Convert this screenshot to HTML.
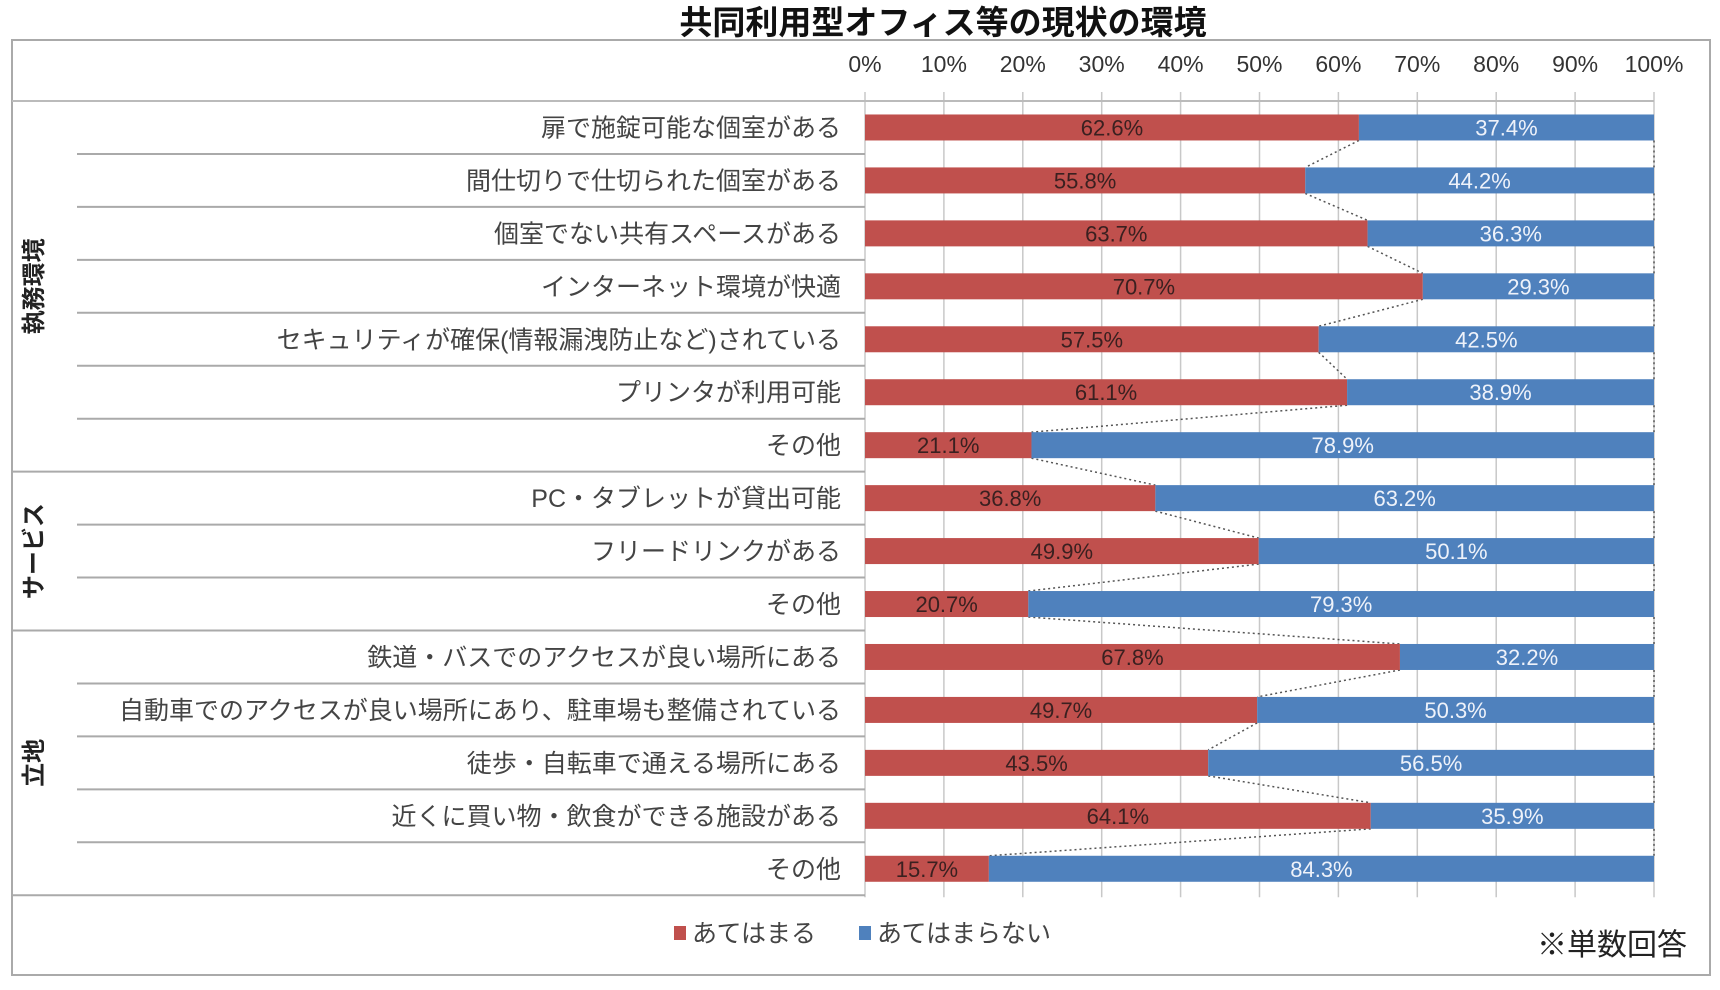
<!DOCTYPE html>
<html><head><meta charset="utf-8"><style>
html,body{margin:0;padding:0;background:#fff;}
svg{display:block;font-family:"Liberation Sans","Noto Sans CJK JP",sans-serif;}
</style></head><body>
<svg id="chart" width="1720" height="990" viewBox="0 0 1720 990">
<text x="943" y="34" text-anchor="middle" font-size="33" font-weight="bold" fill="#111">共同利用型オフィス等の現状の環境</text>
<rect x="12" y="40" width="1698" height="935" fill="none" stroke="#aaa" stroke-width="2"/>
<g id="grid"></g>
<g id="rows"></g>
<g id="bars"></g>
<g id="legend">
<rect x="674" y="926" width="12" height="14" fill="#C0504D"/>
<text x="692" y="942" font-size="25" fill="#444">あてはまる</text>
<rect x="859" y="926" width="12" height="14" fill="#4F81BD"/>
<text x="877" y="942" font-size="25" fill="#444">あてはまらない</text>
</g>
<text x="1687" y="955" text-anchor="end" font-size="30" fill="#222">※単数回答</text>
</svg>
<script>
const categories=["扉で施錠可能な個室がある","間仕切りで仕切られた個室がある","個室でない共有スペースがある","インターネット環境が快適","セキュリティが確保(情報漏洩防止など)されている","プリンタが利用可能","その他","PC・タブレットが貸出可能","フリードリンクがある","その他","鉄道・バスでのアクセスが良い場所にある","自動車でのアクセスが良い場所にあり、駐車場も整備されている","徒歩・自転車で通える場所にある","近くに買い物・飲食ができる施設がある","その他"];
const yesValues=[62.6,55.8,63.7,70.7,57.5,61.1,21.1,36.8,49.9,20.7,67.8,49.7,43.5,64.1,15.7];
const noValues=[37.4,44.2,36.3,29.3,42.5,38.9,78.9,63.2,50.1,79.3,32.2,50.3,56.5,35.9,84.3];
const tickValues=[0,10,20,30,40,50,60,70,80,90,100];
const groupNames=["執務環境","サービス","立地"];
const groupSizes=[7,3,5];

const NS="http://www.w3.org/2000/svg";
const X0=865,X1=1654,TOP=101,ROWH=52.95,BARH=26;
const xs=v=>X0+(X1-X0)*v/100;
const yc=i=>TOP+ROWH*(i+0.5);
function mk(parent,tag,attrs,txt){const e=document.createElementNS(NS,tag);for(const k in attrs)e.setAttribute(k,attrs[k]);if(txt!==undefined)e.textContent=txt;document.getElementById(parent).appendChild(e);return e;}
const n=categories.length;
const bottom=TOP+ROWH*n;
tickValues.forEach((t,i)=>{
 const l=mk('grid','line',{x1:xs(t),x2:xs(t),y1:92,y2:bottom+2,stroke:'#c8c8c8','stroke-width':1.5});
 
 
 const tx=mk('grid','text',{x:xs(t),y:72,'text-anchor':'middle','font-size':23,fill:'#333'},t+'%');
 
 
});
const hl=mk('grid','line',{x1:12,x2:X1,y1:TOP,y2:TOP,stroke:'#bbb','stroke-width':2});


let idx=0;
groupSizes.forEach((gs,g)=>{
 const start=idx,end=idx+gs;
 for(let i=start;i<end;i++){
  const t=mk('rows','text',{x:841,y:yc(i)+9,'text-anchor':'end','font-size':25,fill:'#444'},categories[i]);
  
  
  const yb=TOP+ROWH*(i+1);
  const last=(i===end-1);
  const l=mk('rows','line',{x1:last?12:77,x2:X0,y1:yb,y2:yb,stroke:'#aaa','stroke-width':2});
  
  
 }
 const cy=TOP+ROWH*(start+end)/2;
 const gt=mk('rows','text',{x:0,y:0,'text-anchor':'middle','font-size':24,'font-weight':'bold',fill:'#222',transform:`translate(42,${cy}) rotate(-90)`},groupNames[g]);
 
 
 idx=end;
});
for(let i=0;i<n-1;i++){
 const c=mk('bars','line',{x1:xs(yesValues[i]),y1:yc(i)+BARH/2,x2:xs(yesValues[i+1]),y2:yc(i+1)-BARH/2,stroke:'#555','stroke-width':1.5,'stroke-dasharray':'2,3'});
 
 
 const c2=mk('bars','line',{x1:xs(yesValues[i]+noValues[i]),y1:yc(i)+BARH/2,x2:xs(yesValues[i+1]+noValues[i+1]),y2:yc(i+1)-BARH/2,stroke:'#555','stroke-width':1.5,'stroke-dasharray':'2,3'});
 
 
}
for(let i=0;i<n;i++){
 const y=yc(i)-BARH/2;
 const a=mk('bars','rect',{x:xs(0),y:y,width:xs(yesValues[i])-xs(0),height:BARH,fill:'#C0504D'});
 
 
 const b=mk('bars','rect',{x:xs(yesValues[i]),y:y,width:xs(yesValues[i]+noValues[i])-xs(yesValues[i]),height:BARH,fill:'#4F81BD'});
 
 
 const ta=mk('bars','text',{x:(xs(0)+xs(yesValues[i]))/2,y:yc(i)+8,'text-anchor':'middle','font-size':22,fill:'#3a2020'},yesValues[i].toFixed(1)+'%');
 
 
 const tb=mk('bars','text',{x:(xs(yesValues[i])+xs(yesValues[i]+noValues[i]))/2,y:yc(i)+8,'text-anchor':'middle','font-size':22,fill:'#eef2fa'},noValues[i].toFixed(1)+'%');
 
 
}
</script>
</body></html>
